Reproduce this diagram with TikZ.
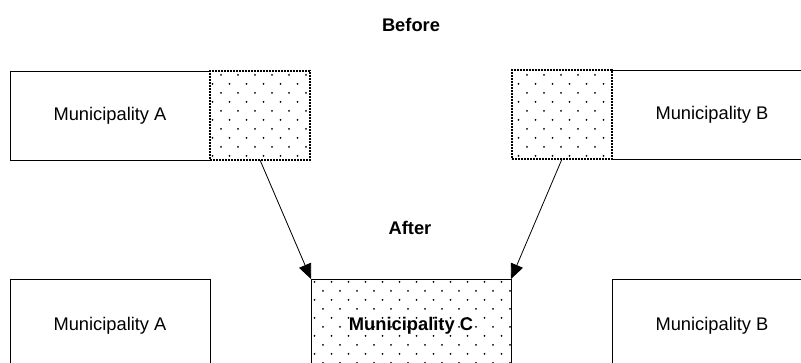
\documentclass[tikz,border=0pt]{standalone}
\usepackage{fontspec}
\setmainfont{Liberation Sans}
\usetikzlibrary{patterns,arrows.meta}

% sparse staggered dots for the merged areas
\pgfdeclarepatternformonly{sparsedots}{\pgfqpoint{-1pt}{-1pt}}{\pgfqpoint{18pt}{19pt}}{\pgfqpoint{17pt}{18pt}}{
  \pgfpathcircle{\pgfqpoint{0pt}{0pt}}{1pt}
  \pgfpathcircle{\pgfqpoint{8.5pt}{9pt}}{1pt}
  \pgfusepath{fill}}

\begin{document}
\begin{tikzpicture}[x=1pt,y=-1pt,
    box/.style={inner sep=0pt,outer sep=0pt,anchor=north west,minimum width=200pt,minimum height=89pt,
      font=\fontsize{18.3}{22}\selectfont},
    cutzone/.style={box,minimum width=100pt,pattern=sparsedots,draw,densely dotted,line width=2pt},
    edge/.style={line width=0.8pt},
    title/.style={font=\fontsize{18.3}{22}\selectfont\bfseries}]
  \path[use as bounding box,clip] (0,0) rectangle (801,363);

  % before
  \node[title] (before) at (411,25) {Before};
  \node[box] (oldA) at (10,71) {Municipality A};
  \node[cutzone] (cutA) at (210,71) {};
  \draw[edge] (oldA.north east) -- (oldA.north west) -- (oldA.south west) -- (oldA.south east);
  \node[box] (oldB) at (612,70) {Municipality B};
  \node[cutzone] (cutB) at (512,70) {};
  \draw[edge] (oldB.north west) -- (oldB.north east) -- (oldB.south east) -- (oldB.south west);

  % after
  \node[title] (after) at (410,228) {After};
  \node[box,draw,edge,minimum height=94pt] (newA) at (10,279) {Municipality A};
  \node[box,draw,edge,minimum height=94pt,pattern=sparsedots,font=\fontsize{18.3}{22}\selectfont\bfseries] (newC) at (311,279) {Municipality C};
  \node[box,draw,edge,minimum height=94pt] (newB) at (612,279) {Municipality B};

  \draw[edge,-{Triangle[length=15pt,width=13pt]}] (cutA.south) -- (newC.north west);
  \draw[edge,-{Triangle[length=15pt,width=13pt]}] (cutB.south) -- (newC.north east);
\end{tikzpicture}
\end{document}
